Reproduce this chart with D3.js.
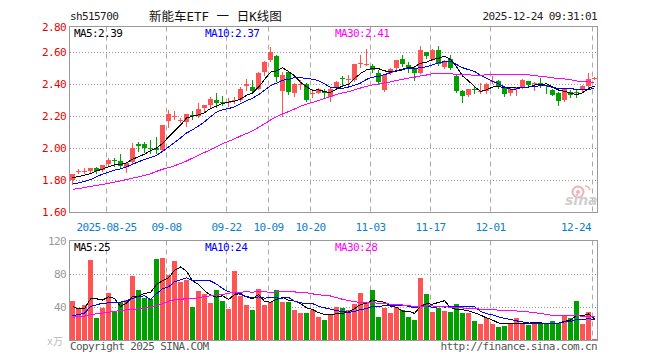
<!DOCTYPE html>
<html>
<head>
<meta charset="utf-8">
<script src="https://cdn.jsdelivr.net/npm/d3@7"></script>
<style>
body { margin: 0; background: #fff; }
svg text { font-family: "DejaVu Sans Mono", monospace; font-size: 11px; letter-spacing: -0.6px; }
</style>
</head>
<body>
<svg width="660" height="360"></svg>
<script>
// trading days shown (2025)
var dates = [
  "08-15","08-18","08-19","08-20","08-21","08-22","08-25","08-26","08-27","08-28","08-29",
  "09-01","09-02","09-03","09-04","09-05","09-08","09-09","09-10","09-11","09-12",
  "09-15","09-16","09-17","09-18","09-19","09-22","09-23","09-24","09-25","09-26","09-29","09-30",
  "10-09","10-10","10-13","10-14","10-15","10-16","10-17","10-20","10-21","10-22","10-23","10-24",
  "10-27","10-28","10-29","10-30","10-31",
  "11-03","11-04","11-05","11-06","11-07","11-10","11-11","11-12","11-13","11-14",
  "11-17","11-18","11-19","11-20","11-21","11-24","11-25","11-26","11-27","11-28",
  "12-01","12-02","12-03","12-04","12-05","12-08","12-09","12-10","12-11","12-12",
  "12-15","12-16","12-17","12-18","12-19","12-22","12-23","12-24"
];

var open = [
  1.802,1.858,1.858,1.860,1.879,1.864,1.902,1.930,1.920,1.885,
  1.916,2.031,2.027,2.006,2.005,1.990,2.173,2.196,2.175,2.166,
  2.212,2.200,2.252,2.272,2.305,2.292,2.288,2.298,2.302,2.390,
  2.385,2.375,2.479,2.552,2.579,2.360,2.479,2.344,2.398,2.406,
  2.342,2.350,2.352,2.323,2.385,2.440,2.428,2.431,2.529,2.525,
  2.514,2.469,2.365,2.473,2.504,2.558,2.520,2.494,2.473,2.602,
  2.562,2.614,2.510,2.562,2.452,2.360,2.333,2.371,2.358,2.360,
  2.415,2.423,2.385,2.348,2.373,2.381,2.423,2.404,2.412,2.398,
  2.365,2.348,2.302,2.354,2.352,2.365,2.390,2.440
];
var high = [
  1.842,1.875,1.878,1.880,1.885,1.900,1.942,1.940,1.965,1.915,
  2.035,2.040,2.042,2.055,2.075,2.148,2.239,2.235,2.190,2.216,
  2.235,2.285,2.275,2.322,2.350,2.330,2.315,2.320,2.385,2.437,
  2.427,2.480,2.547,2.635,2.585,2.480,2.480,2.410,2.430,2.410,
  2.370,2.380,2.370,2.385,2.420,2.450,2.458,2.530,2.583,2.625,
  2.530,2.490,2.460,2.505,2.555,2.583,2.540,2.510,2.639,2.602,
  2.625,2.639,2.552,2.587,2.458,2.365,2.375,2.385,2.410,2.410,
  2.452,2.430,2.390,2.385,2.385,2.435,2.425,2.415,2.440,2.400,
  2.370,2.354,2.372,2.365,2.365,2.396,2.469,2.446
];
var low = [
  1.781,1.845,1.845,1.855,1.850,1.860,1.895,1.890,1.885,1.853,
  1.906,1.985,1.979,1.975,1.970,1.985,2.135,2.185,2.165,2.139,
  2.185,2.195,2.235,2.260,2.262,2.272,2.268,2.285,2.295,2.365,
  2.345,2.370,2.458,2.548,2.420,2.205,2.340,2.330,2.370,2.295,
  2.320,2.345,2.320,2.300,2.380,2.398,2.400,2.425,2.510,2.520,
  2.480,2.406,2.360,2.465,2.500,2.515,2.480,2.431,2.470,2.564,
  2.552,2.520,2.506,2.500,2.354,2.290,2.327,2.344,2.350,2.350,
  2.410,2.380,2.330,2.335,2.335,2.378,2.390,2.365,2.385,2.344,
  2.335,2.271,2.298,2.323,2.323,2.360,2.385,2.436
];
var close = [
  1.838,1.860,1.862,1.877,1.862,1.896,1.931,1.926,1.890,1.910,
  2.004,2.014,2.004,2.002,1.990,2.146,2.214,2.200,2.178,2.214,
  2.206,2.250,2.269,2.312,2.287,2.288,2.292,2.302,2.375,2.406,
  2.360,2.473,2.541,2.604,2.448,2.460,2.354,2.406,2.402,2.306,
  2.346,2.375,2.348,2.375,2.417,2.435,2.432,2.527,2.533,2.529,
  2.490,2.417,2.458,2.500,2.552,2.527,2.494,2.475,2.618,2.577,
  2.618,2.527,2.548,2.506,2.360,2.329,2.371,2.367,2.362,2.402,
  2.419,2.385,2.339,2.369,2.377,2.431,2.396,2.408,2.390,2.394,
  2.337,2.298,2.369,2.333,2.348,2.390,2.437,2.442
];
// volume, 万手
var volume = [
  47.5,38.5,43,97.5,27,40,57.3,34.6,46.8,49.6,
  78,61,52,50,99.5,100.7,79.2,96.2,71.7,73.8,
  41.3,59.6,56,45.4,62,48.6,37.7,83.9,53.5,42.6,
  36.5,63.2,42.6,47.4,60.8,47.4,47.4,36.5,33.3,34,
  37.3,28.4,25.5,31,40.5,39.3,37.3,44.6,57.5,46.6,
  60.8,28.4,39.3,33.3,40.5,37.3,28.4,25.5,75.8,56.3,
  34.4,39.7,35.6,34.4,44.2,33.3,33.3,23.5,19.9,27.6,
  19.9,15.9,18.2,20.3,27.1,21,19.4,20.3,20.3,20.3,
  23.5,21.5,31.6,27.1,48.6,20.3,34.4,1.6
];

// moving-average values before enough history is on screen
var ma5Head  = [1.818,1.824,1.833,1.843];
var ma10Head = [1.777,1.785,1.794,1.806,1.823,1.840,1.852,1.865,1.873];
var ma30Head = [1.744,1.750,1.756,1.763,1.769,1.776,1.782,1.790,1.797,1.806,
                1.815,1.823,1.832,1.842,1.857,1.870,1.880,1.892,1.906,1.922,
                1.940,1.958,1.975,1.992,2.010,2.030,2.045,2.060,2.078];
var vma5Head  = [41.3,38.5,38.8,50.5];
var vma10Head = [30,31.6,33.3,41.3,43.4,45.3,45.7,46.2,46.6];
var vma30Head = [28.4,28.8,29.6,31.6,32.4,33.3,34.4,35.3,36.5,37.3,
                 37.7,38.5,39.3,40.5,42.2,44.6,47.8,49.4,50.2,50.7,
                 51.1,51.9,53.5,54.3,55.1,55.9,57.5,58.3,58.8];

var priceTicks = [1.6, 1.8, 2.0, 2.2, 2.4, 2.6];
var priceTopLabel = "2.80";
var volTicks = [40, 80];
var volTopLabel = "120";
var tickDates = ["08-25","09-08","09-22","10-09","10-20","11-03","11-17","12-01","12-24"];
var tickLabels = ["2025-08-25","09-08","09-22","10-09","10-20","11-03","11-17","12-01","12-24"];
var maNames = ["MA5","MA10","MA30"];
var priceLegend = ["2.39","2.37","2.41"];
var volLegend = ["25","24","28"];

var RED = "#ff5454", GREEN = "#00a000";
var maColors = ["#000000", "#0000ff", "#ff00ff"];

var svg = d3.select("svg");

var x = d3.scaleBand()
  .domain(dates)
  .range([70, 597])
  .paddingInner(1 / 6)
  .paddingOuter(0);

var y = d3.scaleLinear().domain([1.6, 2.6]).range([212.5, 52.5]);
var yv = d3.scaleLinear().domain([0, 120]).range([340.5, 241.8]);

var priceTop = 26.5, priceBottom = 212.5;
var volTop = 240.5, volBottom = 340.5;

function movingAvg(values, n, head) {
  return values.map(function(v, i) {
    if (i < n - 1) return head[i];
    return d3.mean(values.slice(i - n + 1, i + 1));
  });
}

var priceMA = [movingAvg(close, 5, ma5Head), movingAvg(close, 10, ma10Head), movingAvg(close, 30, ma30Head)];
var volMA = [movingAvg(volume, 5, vma5Head), movingAvg(volume, 10, vma10Head), movingAvg(volume, 30, vma30Head)];

// header
svg.append("text").attr("x", 70).attr("y", 20).attr("fill", "#222").text("sh515700");
svg.append("text").attr("x", 149).attr("y", 21).attr("fill", "#111")
  .style("font-family", "'DejaVu Sans Mono','Noto Sans CJK SC'")
  .style("font-size", "12.5px").style("letter-spacing", "0px")
  .text("新能车ETF 一 日K线图");
svg.append("text").attr("x", 597).attr("y", 20).attr("text-anchor", "end").attr("fill", "#222")
  .text("2025-12-24 09:31:01");

// grids
function grid(g, top, bottom, hTicks, yScale) {
  g.selectAll(".hg").data(hTicks).enter().append("line")
    .attr("x1", 70).attr("x2", 597)
    .attr("y1", function(d) { return Math.floor(yScale(d)) + 0.5; })
    .attr("y2", function(d) { return Math.floor(yScale(d)) + 0.5; })
    .attr("stroke", "#999").attr("stroke-dasharray", "1,2");
  g.selectAll(".vg").data(tickDates).enter().append("line")
    .attr("x1", function(d) { return x(d) + 0.5; })
    .attr("x2", function(d) { return x(d) + 0.5; })
    .attr("y1", top).attr("y2", bottom)
    .attr("stroke", "#aaa").attr("stroke-dasharray", "5,4");
}

var priceG = svg.append("g");
grid(priceG, priceTop, priceBottom, [1.8, 2.0, 2.2, 2.4, 2.6], y);
var volG = svg.append("g");
grid(volG, volTop, volBottom, volTicks, yv);

// sina watermark
var logo = svg.append("g").attr("transform", "translate(565,185)");
logo.append("circle").attr("cx", 13).attr("cy", 7).attr("r", 5.5)
  .attr("fill", "none").attr("stroke", "#f2b0b0").attr("stroke-width", 2);
logo.append("circle").attr("cx", 13).attr("cy", 7).attr("r", 2)
  .attr("fill", "#f2b0b0");
logo.append("path").attr("d", "M20,1 q4,0 5,4").attr("fill", "none").attr("stroke", "#f2b0b0").attr("stroke-width", 1.5);
logo.append("text").attr("x", 0).attr("y", 20)
  .style("font-family", "'DejaVu Sans'").style("font-style", "italic").style("font-weight", "bold")
  .style("font-size", "14px").style("letter-spacing", "0px")
  .attr("fill", "#cfcfcf").text("sina");

// frames
svg.append("rect").attr("x", 69.5).attr("y", priceTop).attr("width", 528).attr("height", priceBottom - priceTop)
  .attr("fill", "none").attr("stroke", "#999");
svg.append("rect").attr("x", 69.5).attr("y", volTop).attr("width", 528).attr("height", volBottom - volTop)
  .attr("fill", "none").attr("stroke", "#999");

// candles
var idx = d3.range(dates.length);
var candles = svg.append("g").selectAll("g").data(idx).enter().append("g");
candles.append("line")
  .attr("x1", function(i) { return x(dates[i]) + 2.5; })
  .attr("x2", function(i) { return x(dates[i]) + 2.5; })
  .attr("y1", function(i) { return Math.round(y(high[i])); })
  .attr("y2", function(i) { return Math.round(y(low[i])) + 1; })
  .attr("stroke", function(i) { return close[i] >= open[i] ? RED : GREEN; });
candles.append("rect")
  .attr("x", function(i) { return x(dates[i]); })
  .attr("width", x.bandwidth())
  .attr("y", function(i) { return Math.round(y(Math.max(open[i], close[i]))); })
  .attr("height", function(i) {
    return Math.max(1, Math.round(y(Math.min(open[i], close[i]))) - Math.round(y(Math.max(open[i], close[i]))));
  })
  .attr("fill", function(i) { return close[i] >= open[i] ? RED : GREEN; });

// volume bars
svg.append("g").selectAll("rect").data(idx).enter().append("rect")
  .attr("x", function(i) { return x(dates[i]); })
  .attr("width", x.bandwidth())
  .attr("y", function(i) { return Math.round(yv(volume[i])); })
  .attr("height", function(i) { return 340 - Math.round(yv(volume[i])); })
  .attr("fill", function(i) { return close[i] >= open[i] ? RED : GREEN; });

// moving average lines, drawn aliased like the original bitmap
function maLine(yScale) {
  return d3.line()
    .x(function(d, i) { return x(dates[i]) + 2.5; })
    .y(function(d) { return yScale(d); });
}
priceMA.forEach(function(s, k) {
  svg.append("path").attr("d", maLine(y)(s)).attr("fill", "none")
    .attr("stroke", maColors[k]).attr("stroke-width", 1)
    .attr("shape-rendering", "crispEdges");
});
volMA.forEach(function(s, k) {
  svg.append("path").attr("d", maLine(yv)(s)).attr("fill", "none")
    .attr("stroke", maColors[k]).attr("stroke-width", 1)
    .attr("shape-rendering", "crispEdges");
});

// legends
var legendX = [74, 205, 335];
maNames.forEach(function(n, k) {
  svg.append("text").attr("x", legendX[k]).attr("y", 37).attr("fill", maColors[k])
    .text(n + ":" + priceLegend[k]);
  svg.append("text").attr("x", legendX[k]).attr("y", 251).attr("fill", maColors[k])
    .text(n + ":" + volLegend[k]);
});

// price axis labels
svg.append("g").selectAll("text").data(priceTicks).enter().append("text")
  .attr("x", 66).attr("y", function(d) { return Math.floor(y(d)) + 4; })
  .attr("text-anchor", "end").attr("fill", "#ee0000")
  .text(function(d) { return d.toFixed(2); });
svg.append("text").attr("x", 66).attr("y", priceTop + 4).attr("text-anchor", "end")
  .attr("fill", "#ee0000").text(priceTopLabel);

// volume axis labels
svg.append("g").selectAll("text").data(volTicks).enter().append("text")
  .attr("x", 66).attr("y", function(d) { return Math.floor(yv(d)) + 4; })
  .attr("text-anchor", "end").attr("fill", "#999")
  .text(function(d) { return d; });
svg.append("text").attr("x", 66).attr("y", volTop + 4).attr("text-anchor", "end")
  .attr("fill", "#999").text(volTopLabel);
svg.append("text").attr("x", 63).attr("y", 345).attr("text-anchor", "end")
  .attr("fill", "#bbb").style("font-family", "'DejaVu Sans Mono','Noto Sans CJK SC'")
  .style("font-size", "10px").style("letter-spacing", "0px").text("x万");

// date labels
svg.append("g").selectAll("text").data(tickDates).enter().append("text")
  .attr("x", function(d, i) { return i === tickDates.length - 1 ? 591 : x(d) + 0.5; })
  .attr("y", 231)
  .attr("text-anchor", function(d, i) { return i === tickDates.length - 1 ? "end" : "middle"; })
  .attr("fill", "#0a80cc")
  .text(function(d, i) { return tickLabels[i]; });

// footer
svg.append("text").attr("x", 70).attr("y", 350).attr("fill", "#555").text("Copyright 2025 SINA.COM");
svg.append("text").attr("x", 597).attr("y", 350).attr("text-anchor", "end").attr("fill", "#555")
  .text("http://finance.sina.com.cn");
</script>
</body>
</html>
